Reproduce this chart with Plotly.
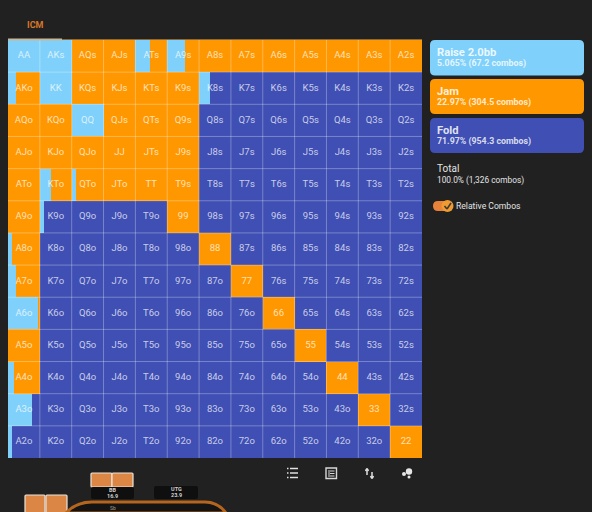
import plotly.graph_objects as go

RANKS = list("AKQJT98765432")
RAISE = [
    [1, 1, 0, 0, .45, .55, 0, 0, 0, 0, 0, 0, 0],
    [.24, 1, 0, 0, 0, 0, .35, 0, 0, 0, 0, 0, 0],
    [0, 0, 1, 0, 0, 0, 0, 0, 0, 0, 0, 0, 0],
    [0, 0, 0, 0, 0, 0, 0, 0, 0, 0, 0, 0, 0],
    [0, .35, .15, 0, 0, 0, 0, 0, 0, 0, 0, 0, 0],
    [0, .12, 0, 0, 0, 0, 0, 0, 0, 0, 0, 0, 0],
    [.12, 0, 0, 0, 0, 0, 0, 0, 0, 0, 0, 0, 0],
    [.25, 0, 0, 0, 0, 0, 0, 0, 0, 0, 0, 0, 0],
    [.95, 0, 0, 0, 0, 0, 0, 0, 0, 0, 0, 0, 0],
    [0, 0, 0, 0, 0, 0, 0, 0, 0, 0, 0, 0, 0],
    [.2, 0, 0, 0, 0, 0, 0, 0, 0, 0, 0, 0, 0],
    [.75, 0, 0, 0, 0, 0, 0, 0, 0, 0, 0, 0, 0],
    [.12, 0, 0, 0, 0, 0, 0, 0, 0, 0, 0, 0, 0],
]
JAM = [
    [0, 0, 1, 1, .55, .45, 1, 1, 1, 1, 1, 1, 1],
    [.76, 0, 1, 1, 1, 1, 0, 0, 0, 0, 0, 0, 0],
    [1, 1, 0, 1, 1, 1, 0, 0, 0, 0, 0, 0, 0],
    [1, 1, 1, 1, 1, 1, 0, 0, 0, 0, 0, 0, 0],
    [1, .65, .85, 1, 1, 1, 0, 0, 0, 0, 0, 0, 0],
    [1, 0, 0, 0, 0, 1, 0, 0, 0, 0, 0, 0, 0],
    [.88, 0, 0, 0, 0, 0, 1, 0, 0, 0, 0, 0, 0],
    [.75, 0, 0, 0, 0, 0, 0, 1, 0, 0, 0, 0, 0],
    [.05, 0, 0, 0, 0, 0, 0, 0, 1, 0, 0, 0, 0],
    [1, 0, 0, 0, 0, 0, 0, 0, 0, 1, 0, 0, 0],
    [.8, 0, 0, 0, 0, 0, 0, 0, 0, 0, 1, 0, 0],
    [0, 0, 0, 0, 0, 0, 0, 0, 0, 0, 0, 1, 0],
    [0, 0, 0, 0, 0, 0, 0, 0, 0, 0, 0, 0, 1],
]
LEGEND = [
    ("Raise 2.0bb", "5.065% (67.2 combos)"),
    ("Jam", "22.97% (304.5 combos)"),
    ("Fold", "71.97% (954.3 combos)"),
]
TOTAL = ("Total", "100.0% (1,326 combos)")
TOGGLE_LABEL = "Relative Combos"
TITLE = "ICM"
SEATS = [("BB", "16.9"), ("UTG", "23.9")]

BG = "#212121"
C_RAISE = "#7fd1fb"
C_JAM = "#ff9800"
C_FOLD = "#3f4fb4"
FONT = "Roboto"

L, T, R, B = 8, 40, 422, 458
W, H = 592, 512


def px(x):
    return (x - L) / (R - L)


def py(y):
    return (B - y) / (B - T)


def rrect(x0, y0, x1, y1, r):
    a, b, c, d = px(x0), px(x1), py(y0), py(y1)
    rx, ry = r / (R - L), r / (B - T)
    return (f"M{a+rx},{c} L{b-rx},{c} Q{b},{c} {b},{c-ry} L{b},{d+ry} Q{b},{d} {b-rx},{d} "
            f"L{a+rx},{d} Q{a},{d} {a},{d+ry} L{a},{c-ry} Q{a},{c} {a+rx},{c} Z")


def box(x0, y0, x1, y1, fill, r=0, line=None, lw=0):
    s = dict(type="path", xref="paper", yref="paper", path=rrect(x0, y0, x1, y1, r),
             fillcolor=fill, line=dict(width=lw, color=line or fill), layer="above")
    return s


def seg(x0, y0, x1, y1, color="#e0e0e0", w=1.5):
    return dict(type="line", xref="paper", yref="paper", x0=px(x0), x1=px(x1), y0=py(y0), y1=py(y1),
                line=dict(color=color, width=w), layer="above")


def dot(cx, cy, r, fill="#e6e6e6"):
    return dict(type="circle", xref="paper", yref="paper", x0=px(cx - r), x1=px(cx + r),
                y0=py(cy - r), y1=py(cy + r), fillcolor=fill, line=dict(width=0), layer="above")


def label(x, y, text, size=10, color="#ffffff", anchor="left", bold=False):
    return dict(xref="paper", yref="paper", x=px(x), y=py(y), text=f"<b>{text}</b>" if bold else text,
                showarrow=False, xanchor=anchor, yanchor="middle", borderpad=0, borderwidth=0,
                font=dict(family=FONT, size=size, color=color))


rows, cols, fr, fj, ff, hands = [], [], [], [], [], []
for i in range(13):
    for j in range(13):
        rows.append(i)
        cols.append(j)
        fr.append(RAISE[i][j])
        fj.append(JAM[i][j])
        ff.append(max(0, 1 - RAISE[i][j] - JAM[i][j]))
        if i == j:
            hands.append(RANKS[i] * 2)
        elif j > i:
            hands.append(RANKS[i] + RANKS[j] + "s")
        else:
            hands.append(RANKS[j] + RANKS[i] + "o")

fig = go.Figure()
common = dict(orientation="h", width=1, y=rows, showlegend=False, marker_line_width=0, hoverinfo="skip")
fig.add_bar(x=fr, base=cols, marker_color=C_RAISE, name="Raise 2.0bb", **common)
fig.add_bar(x=fj, base=[c + a for c, a in zip(cols, fr)], marker_color=C_JAM, name="Jam", **common)
fig.add_bar(x=ff, base=[c + a + b for c, a, b in zip(cols, fr, fj)], marker_color=C_FOLD, name="Fold", **common)
fig.add_scatter(x=[c + 0.5 for c in cols], y=rows, mode="text", text=hands, showlegend=False, hoverinfo="skip",
                textposition="middle center",
                textfont=dict(family=FONT, size=9.5, color="rgba(255,255,255,0.72)"))

shapes = []
for k in range(1, 13):
    shapes.append(dict(type="line", xref="x", yref="paper", x0=k, x1=k, y0=0, y1=1,
                       line=dict(color="rgba(255,255,255,0.3)", width=1)))
    shapes.append(dict(type="line", xref="paper", yref="y", x0=0, x1=1, y0=k - 0.5, y1=k - 0.5,
                       line=dict(color="rgba(255,255,255,0.3)", width=1)))
shapes.append(seg(8, 39.5, 422, 39.5, "#8a6a3a", 1))
shapes.append(seg(8, 39.5, 62, 39.5, "#c9b79a", 2))

# legend cards
shapes += [
    box(430, 40, 584, 75.5, C_RAISE, 5),
    box(430, 79, 584, 114, C_JAM, 5),
    box(430, 118, 584, 153, C_FOLD, 5),
]
ann = [label(35, 25, TITLE, 9, "#d9772a", "center", True)]
for (a, b), y in zip(LEGEND, (52, 91, 130)):
    ann.append(label(437, y, a, 11.2, "rgba(255,255,255,0.85)", bold=True))
    ann.append(label(437, y + 11, b, 8.8, "rgba(255,255,255,0.8)", bold=True))
ann.append(label(437, 168.5, TOTAL[0], 10, "#e4e4e4"))
ann.append(label(437, 180, TOTAL[1], 8.3, "#e4e4e4"))
ann.append(label(456, 205.5, TOGGLE_LABEL, 8.6, "#e4e4e4"))

# toggle
shapes += [box(433, 201, 450, 211, "#e8823a", 5), dot(447.5, 206, 6, "#f09a30"),
           seg(444.5, 206, 447, 209, "#3a3a3a", 1.5), seg(447, 209, 451, 203, "#3a3a3a", 1.5)]

# toolbar icons
for y in (468.5, 473, 477.5):
    shapes.append(seg(290, y, 298, y))
    shapes.append(seg(287, y, 288.5, y))
shapes += [box(326, 468, 336.5, 478.5, "rgba(0,0,0,0)", 0, "#d8d8d8", 1.4)]
for y in (471, 473.5, 476):
    shapes.append(seg(330, y, 334.5, y, "#d8d8d8", 1))
shapes.append(seg(329, 470, 329, 477, "#d8d8d8", 1))
shapes += [seg(367, 469, 367, 475, "#e0e0e0", 1.5), seg(372, 472, 372, 478, "#e0e0e0", 1.5),
           seg(365.5, 471, 367, 468.5, "#e0e0e0", 1.5), seg(368.5, 471, 367, 468.5, "#e0e0e0", 1.5),
           seg(370.5, 476, 372, 478.5, "#e0e0e0", 1.5), seg(373.5, 476, 372, 478.5, "#e0e0e0", 1.5),
           dot(409, 471.5, 3.2), dot(404, 474, 2), dot(409, 477, 1.5)]

# table preview at the bottom
shapes += [
    box(91, 473, 112, 487, "#dc8645", 1, "#e9e3dc", 1.2),
    box(112, 473, 133, 487, "#dc8645", 1, "#e9e3dc", 1.2),
    box(25, 495, 45, 513, "#dc8645", 1, "#e9e3dc", 1.2),
    box(46, 495, 67, 513, "#dc8645", 1, "#e9e3dc", 1.2),
    box(91, 487, 134, 499, "#0f0f0f", 2),
    box(154, 486, 198, 499, "#0f0f0f", 2),
    dict(type="path", xref="paper", yref="paper", layer="above", fillcolor="#141414",
         path=f"M{px(66)},{py(513)} Q{px(76)},{py(502)} {px(92)},{py(502)} L{px(205)},{py(502)} "
              f"Q{px(218)},{py(502)} {px(226)},{py(513)} Z",
         line=dict(color="#b5651d", width=3)),
]
for (n, v), x, y in zip(SEATS, (112.5, 176), (489.5, 489)):
    ann.append(label(x, y + 0.5, n, 5.5, "#cfcfcf", "center", True))
    ann.append(label(x, y + 6.5, v, 5.5, "#cfcfcf", "center", True))
ann.append(label(113, 507.5, "Sb", 5, "#a0a090", "center"))

fig.update_layout(
    width=W, height=H, autosize=False, paper_bgcolor=BG, plot_bgcolor=C_FOLD,
    margin=dict(l=L, r=W - R, t=T, b=H - B, pad=0), barmode="overlay", bargap=0,
    xaxis=dict(range=[0, 13], visible=False, fixedrange=True),
    yaxis=dict(range=[12.5, -0.5], visible=False, fixedrange=True),
    shapes=shapes, annotations=ann, showlegend=False,
)

fig.write_html("out.html", config=dict(displayModeBar=False),
               post_script="document.body.style.margin='0';document.body.style.overflow='hidden';")
